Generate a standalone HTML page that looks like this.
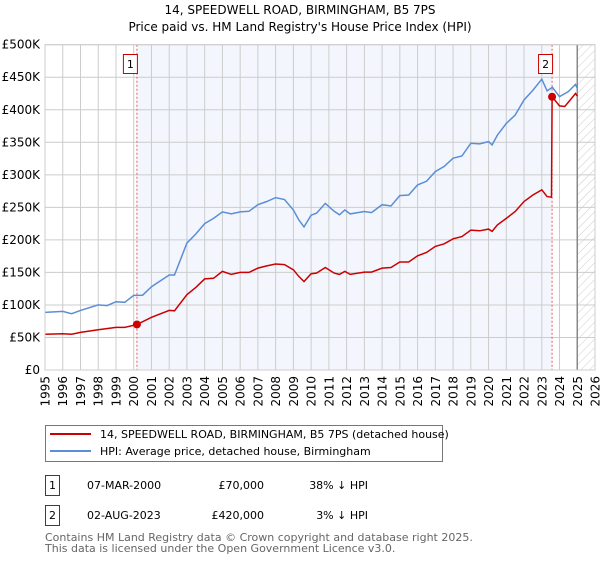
<!DOCTYPE html>
<html><head><meta charset="utf-8"><style>
body{margin:0;background:#fff;font-family:"DejaVu Sans","Liberation Sans",sans-serif;}
svg text{font-family:"DejaVu Sans","Liberation Sans",sans-serif;}
</style></head><body>
<svg id="c" width="600" height="560" xmlns="http://www.w3.org/2000/svg">
<defs><pattern id="hatch" width="6" height="6" patternUnits="userSpaceOnUse" patternTransform="rotate(45)"><line x1="0" y1="0" x2="0" y2="6" stroke="#ccc" stroke-width="1"/></pattern></defs>
<text x="300" y="14" text-anchor="middle" font-size="12">14, SPEEDWELL ROAD, BIRMINGHAM, B5 7PS</text>
<text x="300" y="31" text-anchor="middle" font-size="12">Price paid vs. HM Land Registry's House Price Index (HPI)</text>
<g id="plot"></g>
<g>
<rect x="45.5" y="425.5" width="397" height="36" fill="#fff" stroke="#777"/>
<line x1="50" y1="434" x2="91" y2="434" stroke="#cc0000" stroke-width="2"/>
<text x="100" y="438" font-size="11">14, SPEEDWELL ROAD, BIRMINGHAM, B5 7PS (detached house)</text>
<line x1="50" y1="451" x2="91" y2="451" stroke="#5b8ed6" stroke-width="2"/>
<text x="100" y="455" font-size="11">HPI: Average price, detached house, Birmingham</text>
</g>
<g font-size="11">
<rect x="45.5" y="475.5" width="14" height="20" fill="#fff" stroke="#cc0000"/>
<text x="52.5" y="489" text-anchor="middle">1</text>
<text x="87" y="489">07-MAR-2000</text>
<text x="264" y="489" text-anchor="end">£70,000</text>
<text x="368" y="489" text-anchor="end">38% ↓ HPI</text>
<rect x="45.5" y="505.5" width="14" height="20" fill="#fff" stroke="#cc0000"/>
<text x="52.5" y="519" text-anchor="middle">2</text>
<text x="87" y="519">02-AUG-2023</text>
<text x="264" y="519" text-anchor="end">£420,000</text>
<text x="368" y="519" text-anchor="end">3% ↓ HPI</text>
</g>
<g font-size="11" fill="#666">
<text x="45" y="541">Contains HM Land Registry data © Crown copyright and database right 2025.</text>
<text x="45" y="552">This data is licensed under the Open Government Licence v3.0.</text>
</g>
</svg>
<script>
const hpiYears=[1995,1996,1996.5,1997,1998,1998.5,1999,1999.5,2000,2000.5,2001,2002,2002.3,2003,2003.5,2004,2004.5,2005,2005.5,2006,2006.5,2007,2007.5,2008,2008.5,2009,2009.3,2009.6,2010,2010.3,2010.8,2011.3,2011.6,2011.9,2012.2,2013,2013.4,2014,2014.5,2015,2015.5,2016,2016.5,2017,2017.5,2018,2018.5,2019,2019.5,2020,2020.2,2020.5,2021,2021.5,2022,2022.5,2023,2023.3,2023.6,2024,2024.5,2024.9,2025];
const hpiValues=[88.5,90,86.5,91.6,100,99,105,104,114.6,115,128,146,146,195,209,225,233,243,240,243,244,254,259,265,262,246,231,220,238,241,256,244,238.6,246,240,243.6,242,254,252,268,269,284.5,290,305,313,325.5,329,348.5,347.5,351,346,361,379,392,415,430,447,429,434.5,420,428,439,433];
const redYears=[1995,1996,1996.5,1997,1998,1999,1999.5,2000.18,2001,2002,2002.3,2003,2003.5,2004,2004.5,2005,2005.5,2006,2006.5,2007,2007.5,2008,2008.5,2009,2009.3,2009.6,2010,2010.3,2010.8,2011.3,2011.6,2011.9,2012.2,2013,2013.4,2014,2014.5,2015,2015.5,2016,2016.5,2017,2017.5,2018,2018.5,2019,2019.5,2020,2020.2,2020.5,2021,2021.5,2022,2022.5,2023,2023.3,2023.55,2023.58,2024,2024.3,2024.6,2024.9,2025];
const redValues=[54.8,55.8,55,57.8,62,65.5,65.5,70,81,91.6,91,115.7,127,140,141,151.5,147,150,150,156.6,160,163,162,154,144,136,148,149,157.6,149,147,151.5,147,150.5,150.5,156.6,157.6,166,166,175.5,180.6,190,194,201.6,205,215,214,216.5,213,223,233,243.6,259,269,277,266.6,265.6,420,406,405,415,425,421];
const saleYears=[2000.18,2023.58];
const saleValues=[70,420];
const saleLabels=["1","2"];
const yTicks=[0,50,100,150,200,250,300,350,400,450,500];
const yTickLabels=["£0","£50K","£100K","£150K","£200K","£250K","£300K","£350K","£400K","£450K","£500K"];
const xTicks=[1995,1996,1997,1998,1999,2000,2001,2002,2003,2004,2005,2006,2007,2008,2009,2010,2011,2012,2013,2014,2015,2016,2017,2018,2019,2020,2021,2022,2023,2024,2025,2026];

const X0=45,X1=595,Y0=370,Y1=44.7;
const sx=y=>X0+(y-1995)/(2026-1995)*(X1-X0);
const sy=v=>Y0-v/500*(Y0-Y1);
const NS="http://www.w3.org/2000/svg";
const g=document.getElementById('plot');
function mk(t,a){const e=document.createElementNS(NS,t);for(const k in a)e.setAttribute(k,a[k]);g.appendChild(e);return e;}
const shade=mk('rect',{x:sx(saleYears[0]),y:Y1,width:sx(saleYears[1])-sx(saleYears[0]),height:Y0-Y1,fill:'#eef3fc',opacity:0.7});


const hat=mk('rect',{x:sx(2025),y:Y1,width:X1-sx(2025),height:Y0-Y1,fill:'url(#hatch)'});


yTicks.forEach((v,i)=>{
 const l=mk('line',{x1:X0,x2:X1,y1:sy(v),y2:sy(v),stroke:'#ccc'});
 
 
 const t=mk('text',{x:40,y:sy(v)+4,'text-anchor':'end','font-size':12});
 
 
 t.textContent=yTickLabels[i];
});
xTicks.forEach(y=>{
 const l=mk('line',{x1:sx(y),x2:sx(y),y1:Y1,y2:Y0,stroke:'#ccc'});
 
 
 const t=mk('text',{x:0,y:0,'font-size':12,'text-anchor':'end',transform:`translate(${sx(y)+4.5},${Y0+6}) rotate(-90)`});
 
 
 t.textContent=y;
});
const endLine=mk('line',{x1:sx(2025),x2:sx(2025),y1:Y1,y2:Y0,stroke:'#888','stroke-width':1.5});


saleYears.forEach((y,i)=>{
 const l=mk('line',{x1:sx(y),x2:sx(y),y1:Y1,y2:Y0,stroke:'#e06060','stroke-dasharray':'2,2'});
 
 
});
function path(xs,vs,col,name){
 const d=xs.map((x,i)=>(i?'L':'M')+sx(x).toFixed(1)+','+sy(vs[i]).toFixed(1)).join('');
 const p=mk('path',{d:d,fill:'none',stroke:col,'stroke-width':1.5});
 
 
}
path(hpiYears,hpiValues,'#5b8ed6','hpi-line');
path(redYears,redValues,'#cc0000','price-paid-line');
saleYears.forEach((y,i)=>{
 const c=mk('circle',{cx:sx(y),cy:sy(saleValues[i]),r:4,fill:'#cc0000'});
 
 
 const r=mk('rect',{x:sx(y)-13.5,y:54.5,width:14,height:19,fill:'#fff',stroke:'#cc0000'});
 
 
 const t=mk('text',{x:sx(y)-6.5,y:68,'text-anchor':'middle','font-size':11});
 
 
 t.textContent=saleLabels[i];
});
const fr=mk('rect',{x:X0,y:Y1,width:X1-X0,height:Y0-Y1,fill:'none',stroke:'#ccc'});


</script>
</body></html>
